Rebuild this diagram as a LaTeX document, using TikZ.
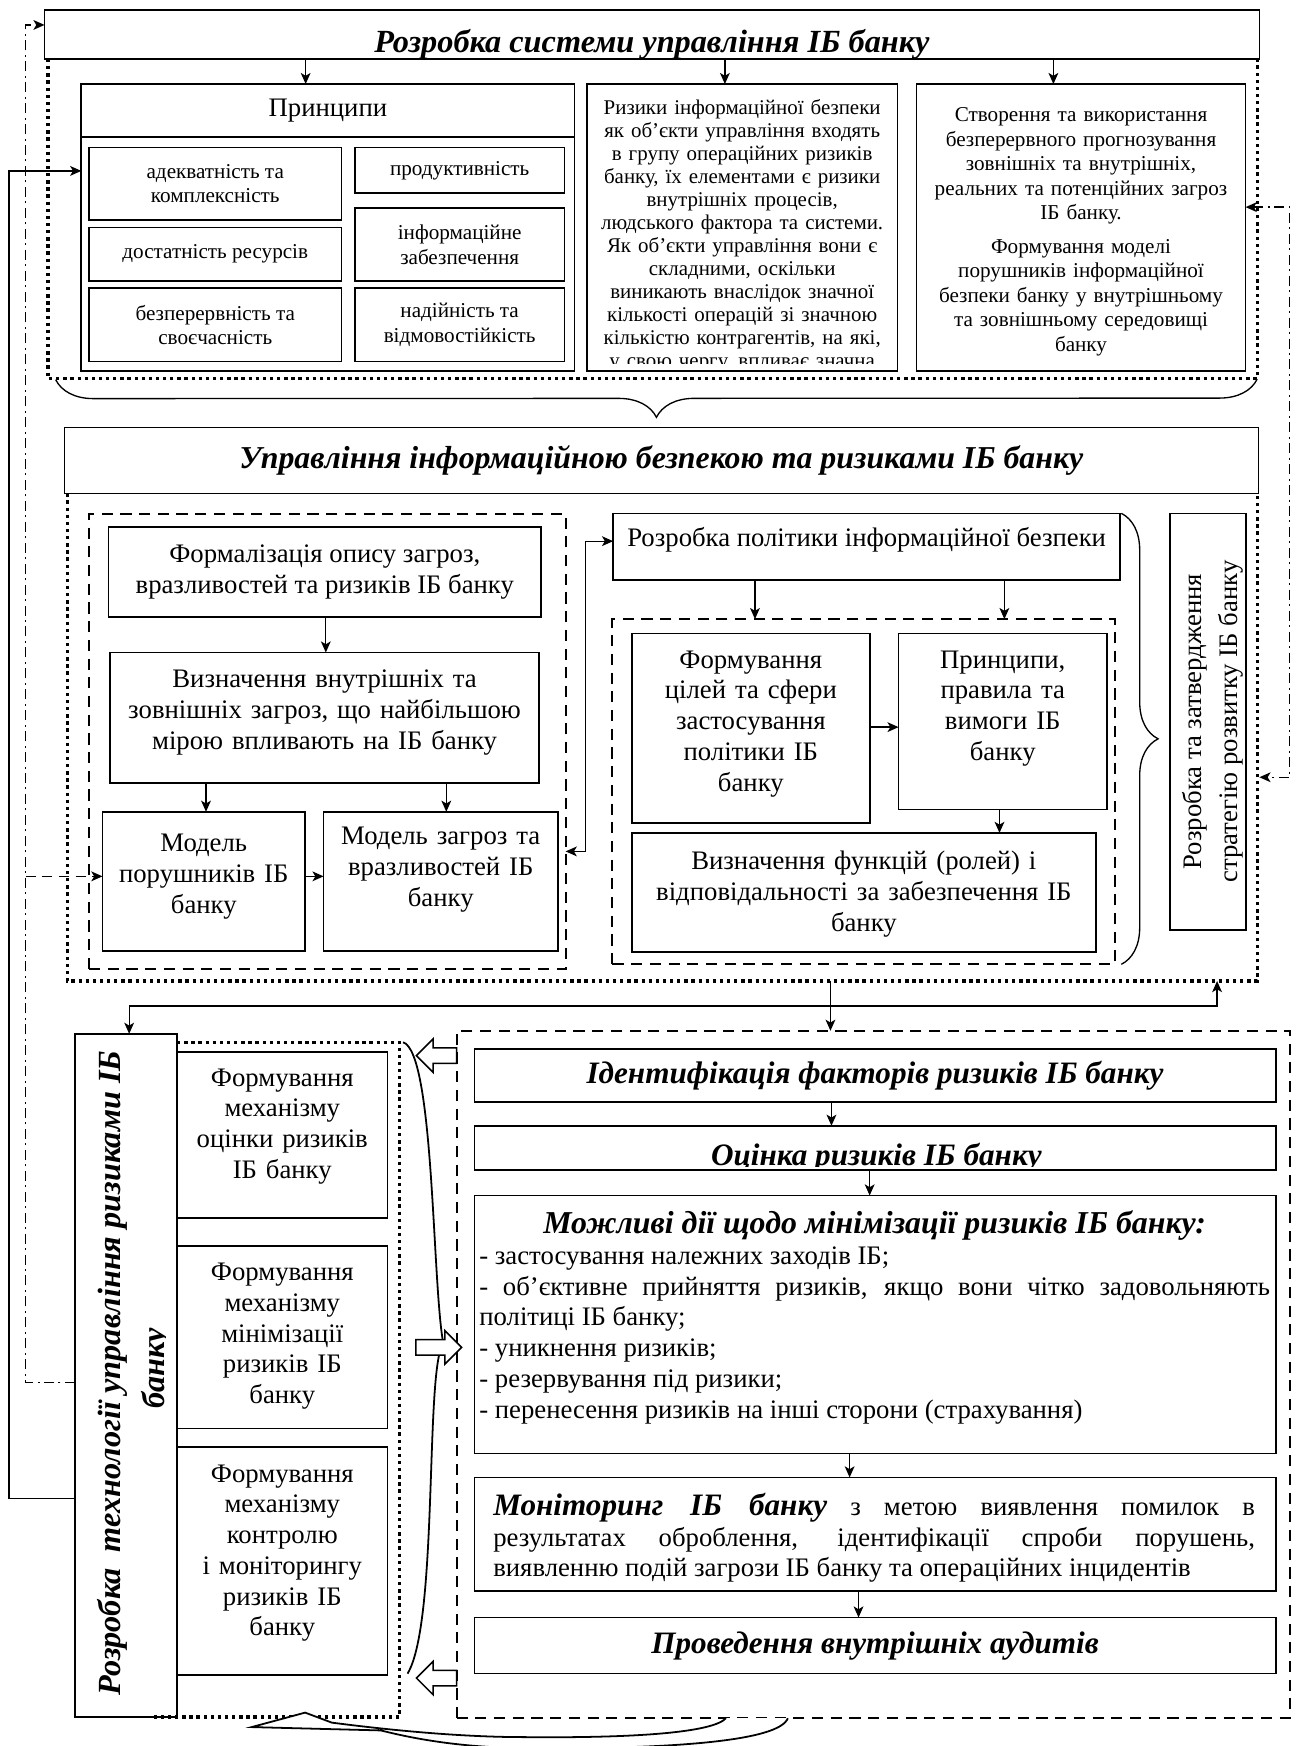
\documentclass[tikz,border=0pt]{standalone}
\usepackage{fontspec}
\setmainfont{Liberation Serif}
\usetikzlibrary{arrows.meta,calc,decorations.pathreplacing}
\hyphenpenalty=10000
\exhyphenpenalty=10000

% rectangle node given by its corners (x1,y1)-(x2,y2) in picture units
\newcommand\frbox[7][]{%
  \pgfmathsetmacro\bxW{(#5-#3)/2}%
  \pgfmathsetmacro\bxH{(#6-#4)/2}%
  \pgfmathsetmacro\bxX{(#3+#5)/2}%
  \pgfmathsetmacro\bxY{(#4+#6)/2}%
  \node[box, minimum width=\bxW pt, minimum height=\bxH pt, #1] (#2) at (\bxX,\bxY) {#7};}

\begin{document}
\begin{tikzpicture}[x=0.5pt, y=-0.5pt,
  box/.style={draw, line width=0.75pt, inner sep=0pt, outer sep=0pt, fill=white, align=center},
  tbox/.style={line width=0.5pt},
  dashbox/.style={fill=none, line width=0.9pt, dash pattern=on 5pt off 3.4pt},
  dotframe/.style={line width=1.5pt, dash pattern=on 1.5pt off 1.7pt},
  ddash/.style={line width=0.8pt, dash pattern=on 4.5pt off 2pt on 0.9pt off 2pt},
  dline/.style={line width=1pt, dash pattern=on 4.5pt off 3pt},
  arr/.style={line width=0.6pt, -{Stealth[length=5pt,width=4.4pt,inset=1.3pt]}},
  arrb/.style={line width=0.6pt, {Stealth[length=5pt,width=4.4pt,inset=1.3pt]}-{Stealth[length=5pt,width=4.4pt,inset=1.3pt]}},
  bracest/.style={line width=0.6pt, decorate, decoration={brace, amplitude=#1}},
  hollow/.style={line width=0.7pt, fill=white},
  fitem/.style={font=\fontsize{9.5}{11}\selectfont},
  fsmall/.style={font=\fontsize{9.4}{10.3}\selectfont},
  fmid/.style={font=\fontsize{9.5}{11}\selectfont},
  ftw/.style={font=\fontsize{12}{13.8}\selectfont},
  fbi/.style={font=\fontsize{14}{16}\selectfont\bfseries\itshape},
  fbiA/.style={font=\fontsize{14.5}{16}\selectfont\bfseries\itshape},
  fbiB/.style={font=\fontsize{14.3}{17}\selectfont\bfseries\itshape},
  txt/.style={inner sep=0pt, outer sep=0pt, align=center, anchor=base},
]
\fill[white] (0,0) rectangle (1169,1568);
\useasboundingbox (0,0) rectangle (1169,1568);

% ================= system design block =================
\frbox[tbox]{sys}{40}{9}{1131}{53}{}
\begin{scope}
  \clip (40,9) rectangle (1131,51.5);
  \node[txt, fbiA] (systxt) at (585.5,47) {Розробка системи управління ІБ банку};
\end{scope}
\draw[dotframe] (43,53) -- (43,340) -- (1129,340) -- (1129,53);

\frbox{princ}{73}{75.5}{516}{333}{}
\frbox[ftw]{princhead}{73}{75.5}{516}{123.3}{Принципи}
\frbox[fitem]{p1}{80}{132.6}{306.6}{197.5}{адекватність та\\комплексність}
\frbox[fitem]{p2}{80}{204.4}{306.6}{252.3}{достатність ресурсів}
\frbox[fitem]{p3}{80}{258.9}{306.6}{324.7}{безперервність та\\своєчасність}
\frbox[fitem]{p4}{318.6}{132.6}{507}{173.6}{продуктивність}
\frbox[fitem]{p5}{318.6}{187}{507}{252.3}{інформаційне\\забезпечення}
\frbox[fitem]{p6}{318.6}{258.9}{507}{324.7}{надійність та\\відмовостійкість}

\frbox{risk}{527}{75.5}{806}{333}{}
\begin{scope}
  \clip (527,75.5) rectangle (806,326);
  \node[txt, fsmall, text width=137pt] (risktxt) at (666.5,103) {Ризики інформаційної безпеки\\
    як об’єкти управління входять\\ в групу операційних ризиків\\
    банку, їх елементами є ризики\\ внутрішніх процесів,\\
    людського фактора та системи.\\ Як об’єкти управління вони є\\
    складними, оскільки\\ виникають внаслідок значної\\
    кількості операцій зі значною\\ кількістю контрагентів, на які,\\
    у свою чергу, впливає значна};
\end{scope}

\frbox{strat}{823}{75.5}{1118.6}{333}{}
\node[txt, fmid, text width=146pt] (strattxt) at (970.8,109.5) {Створення та використання\\
  безперервного прогнозування\\ зовнішніх та внутрішніх,\\
  реальних та потенційних загроз\\ ІБ банку.\\[4pt]
  Формування моделі\\ порушників інформаційної\\
  безпеки банку у внутрішньому\\ та зовнішньому середовищі\\ банку};

\draw[arr] (sys.south -| 274.5,0) -- (princ.north -| 274.5,0);
\draw[arr] (sys.south -| 651,0) -- (risk.north -| 651,0);
\draw[arr] (sys.south -| 946,0) -- (strat.north -| 946,0);

\draw[bracest=17pt] (1129,340.5) -- (50,341);

% ================= security and risk management block =================
\frbox[tbox, fbiB]{mgmt}{58}{384}{1130}{443}{Управління інформаційною безпекою та ризиками ІБ банку}
\draw[dotframe] (60.5,443) -- (60.5,881) -- (1129,881) -- (1129,443);

\frbox[dashbox]{ldash}{80}{461.5}{508}{870}{}
\frbox[ftw]{formal}{97.4}{473}{486}{554}{Формалізація опису загроз,\\вразливостей та ризиків ІБ банку}
\frbox{vyzn}{99}{586}{484}{703}{}
\node[txt, ftw, text width=185pt] (vyzntxt) at (291.5,617.5) {Визначення внутрішніх та\\ зовнішніх загроз, що найбільшою\\ мірою впливають на ІБ банку};
\frbox{modpor}{92}{729}{274}{854}{}
\node[txt, ftw, text width=88pt] (modportxt) at (183,765) {Модель\\ порушників ІБ\\ банку};
\frbox{modzag}{290.6}{729}{501}{854}{}
\node[txt, ftw, text width=100pt] (modzagtxt) at (395.8,758.5) {Модель загроз та\\ вразливостей ІБ\\ банку};

\draw[arr] (formal.south -| 292.6,0) -- (vyzn.north -| 292.6,0);
\draw[arr] (vyzn.south -| 185,0) -- (modpor.north -| 185,0);
\draw[arr] (vyzn.south -| 400.8,0) -- (modzag.north -| 400.8,0);
\draw[arr] (modpor.east |- 0,787) -- (modzag.west |- 0,787);

\frbox{polit}{550.6}{461}{1006}{521}{}
\node[txt, ftw] (polittxt) at (778.3,491) {Розробка політики інформаційної безпеки};
\draw[arrb] (ldash.east |- 0,764.6) -- (526,764.6) -- (526,486) -- (polit.west |- 0,486);

\frbox[dashbox]{rdash}{550}{556}{1001}{866}{}
\draw[arr] (polit.south -| 678,0) -- (rdash.north -| 678,0);
\draw[arr] (polit.south -| 902,0) -- (rdash.north -| 902,0);

\frbox{goals}{567.6}{569}{781}{739}{}
\node[txt, ftw, text width=102pt] (goalstxt) at (674.3,600) {Формування\\ цілей та сфери\\ застосування\\ політики ІБ\\ банку};
\frbox{rules}{807}{569}{994}{727}{}
\node[txt, ftw, text width=90pt] (rulestxt) at (900.5,600) {Принципи,\\ правила та\\ вимоги ІБ\\ банку};
\frbox{funcs}{567.6}{748}{984}{855}{}
\node[txt, ftw, text width=204pt] (funcstxt) at (775.8,781) {Визначення функцій (ролей) і\\ відповідальності за забезпечення ІБ\\ банку};
\draw[arr] (goals.east |- 0,653) -- (rules.west |- 0,653);
\draw[arr] (rules.south -| 897.6,0) -- (funcs.north -| 897.6,0);

\draw[bracest=16.5pt] (1007,461) -- (1007,866);
\frbox{strdev}{1050.5}{461}{1119}{835}{}
\node[inner sep=0pt, align=center, rotate=90, font=\fontsize{12}{16}\selectfont] (strdevtxt) at (1089,648) {Розробка та затвердження\\ стратегію розвитку ІБ банку};

\draw[ddash, arrb] (strat.east |- 0,186) -- (1158,186) -- (1158,698) -- (1131,698);

% ================= risk management technology block =================
\frbox{tech}{67.3}{928.4}{159}{1542}{}
\node[txt, fbiA, rotate=90] (techtxt) at (108.6,1233) {Розробка\ \ технології управління ризиками ІБ};
\begin{scope}
  \clip (67.3,928.4) rectangle (148.6,1542);
  \node[txt, fbiA, rotate=90] (techtxtb) at (148,1229) {банку};
\end{scope}

\frbox{mA}{159}{944.7}{348}{1093.6}{}
\node[txt, ftw, text width=92pt] (mAtxt) at (253.5,975.5) {Формування\\ механізму\\ оцінки ризиків\\ ІБ банку};
\frbox{mB}{159}{1119}{348}{1283}{}
\node[txt, ftw, text width=92pt] (mBtxt) at (253.5,1150) {Формування\\ механізму\\ мінімізації\\ ризиків ІБ\\ банку};
\frbox{mC}{159}{1299.6}{348}{1504}{}
\node[txt, ftw, text width=92pt] (mCtxt) at (253.5,1331) {Формування\\ механізму\\ контролю\\ і моніторингу\\ ризиків ІБ\\ банку};
\draw[dotframe] (159,936) -- (359,936) -- (359,1542) -- (136,1542);

\frbox[dashbox]{steps}{410}{925.7}{1158.7}{1542.5}{}
\frbox[fbi]{ident}{426}{942}{1145.6}{989.7}{Ідентифікація факторів ризиків ІБ банку}
\frbox{ocin}{426}{1011}{1145.6}{1051}{}
\begin{scope}
  \clip (426,1011) rectangle (1145.6,1047.5);
  \node[txt, fbi] (ocintxt) at (787,1047) {Оцінка ризиків ІБ банку};
\end{scope}
\frbox{minim}{426}{1073.6}{1145.6}{1305.3}{}
\node[txt, ftw, text width=355pt, align=justify] (minimtxt) at (785.5,1108) {%
  {\centering\fontsize{14.3}{16}\selectfont\bfseries\itshape Можливі дії щодо мінімізації ризиків ІБ банку:\par}
  - застосування належних заходів ІБ;\par
  - об’єктивне прийняття ризиків, якщо вони чітко задовольняють\linebreak політиці ІБ банку;\par
  - уникнення ризиків;\par
  - резервування під ризики;\par
  - перенесення ризиків на інші сторони (страхування)};
\frbox{monit}{426}{1326.8}{1145.6}{1429}{}
\node[txt, ftw, text width=342pt, align=justify] (monittxt) at (785,1361) {%
  {\fontsize{14}{16}\selectfont\bfseries\itshape Моніторинг ІБ банку} з метою виявлення помилок в\linebreak
  результатах оброблення, ідентифікації спроби порушень,\linebreak
  виявленню подій загрози ІБ банку та операційних інцидентів};
\frbox[fbi]{audit}{426}{1452.6}{1145.6}{1503}{Проведення внутрішніх аудитів}

\draw[arr] (ident.south -| 746.7,0) -- (ocin.north -| 746.7,0);
\draw[arr] (ocin.south -| 781,0) -- (minim.north -| 781,0);
\draw[arr] (minim.south -| 763,0) -- (monit.north -| 763,0);
\draw[arr] (monit.south -| 771,0) -- (audit.north -| 771,0);

% links between the blocks
\coordinate (midout) at (745.8,881);
\coordinate (backin) at (1093,881);
\draw[arr] (midout) -- (midout |- steps.north);
\draw[arrb] (backin) -- (1093,903.5) -- (116,903.5) -- (tech.north -| 116,0);

% brace and block arrows between the mechanisms and the steps
\draw[line width=0.8pt] (362,936) .. controls (390,945) and (388,1150) .. (398,1206);
\draw[line width=0.8pt] (395,1214) .. controls (383,1260) and (392,1460) .. (366,1503);
\draw[hollow] (410,941) -- (389,941) -- (389,933) -- (374,948) -- (389,963) -- (389,955) -- (410,955) -- cycle;
\draw[hollow] (373.5,1203) -- (399.5,1203) -- (399.5,1195) -- (414.5,1210) -- (399.5,1225) -- (399.5,1217) -- (373.5,1217) -- cycle;
\draw[hollow] (410,1500) -- (389,1500) -- (389,1492) -- (374,1507) -- (389,1522) -- (389,1514) -- (410,1514) -- cycle;

% curved return arrow under the bottom block
\draw[hollow, line width=0.8pt] (707.5,1543) .. controls (700,1564) and (600,1571) .. (470,1570)
  .. controls (410,1569) and (370,1561) .. (342,1554)
  -- (226,1551) -- (274,1538) -- (298,1547)
  .. controls (360,1555) and (420,1560) .. (470,1560)
  .. controls (570,1561) and (640,1556) .. (652,1543);

% feedback lines on the left
\draw[arr] (tech.west |- 0,1345.7) -- (8,1345.7) -- (8,153.5) -- (princ.west |- 0,153.5);
\draw[ddash, arr] (tech.west |- 0,1241.7) -- (23,1241.7) -- (23,22.4) -- (sys.west |- 0,22.4);
\coordinate (ddjoin) at (23,787);
\draw[dline, arr] (ddjoin) -- (modpor.west |- 0,787);
\end{tikzpicture}
\end{document}
